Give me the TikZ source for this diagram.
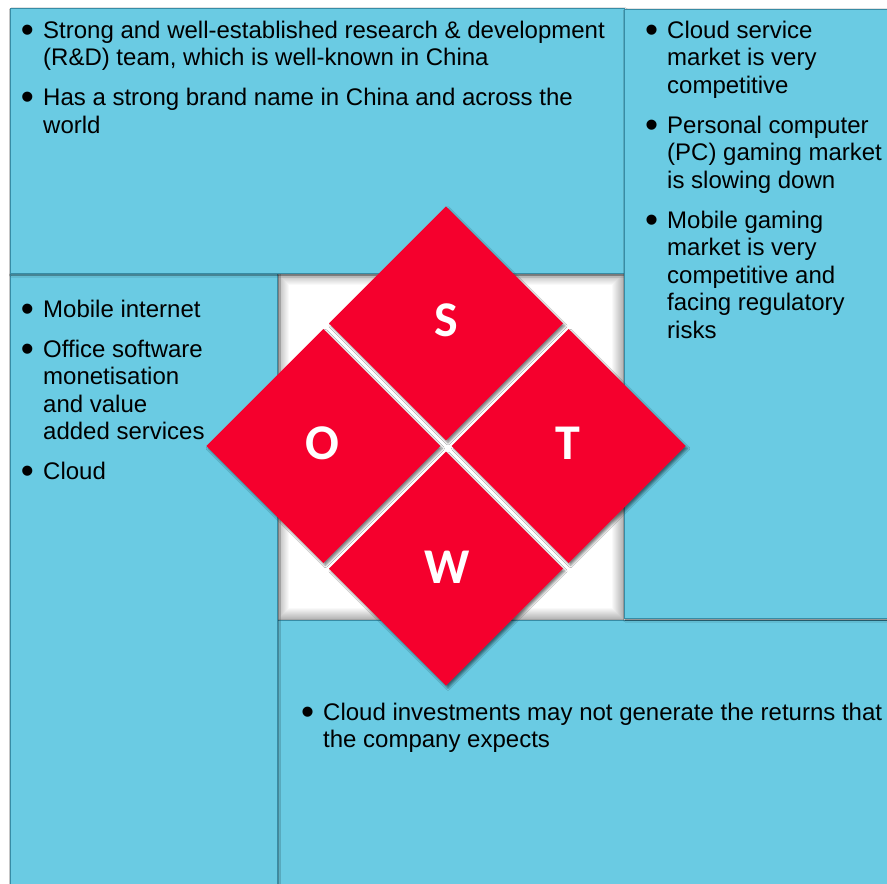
\documentclass[tikz,border=0pt]{standalone}
\usepackage{fontspec}
\usepackage{graphicx}
\setmainfont{Liberation Sans}
\newfontfamily\letterfont{Carlito}
\usetikzlibrary{shadows.blur}
\definecolor{boxblue}{RGB}{106,203,227}
\definecolor{boxedge}{RGB}{55,140,165}
\definecolor{swotred}{RGB}{245,0,45}
\newlength\bulw \setlength\bulw{20pt}
\newcommand\bi{\strut\makebox[\bulw][l]{\hspace*{-2.2pt}\raisebox{-4.2pt}{\scalebox{1.55}{\textbullet}}}}
\newcommand\ci{\hspace*{\bulw}}
\begin{document}
\begin{tikzpicture}[x=1pt,y=-1pt,
  panel/.style={fill=boxblue, draw=boxedge, line width=0.8pt,
    blur shadow={shadow xshift=1.5pt, shadow yshift=-2pt, shadow blur steps=6, shadow opacity=55}},
  quad/.style={fill=swotred,
    blur shadow={shadow xshift=2pt, shadow yshift=-2.5pt, shadow blur steps=6, shadow opacity=50}},
  letter/.style={text=white, font=\letterfont\bfseries\fontsize{50}{50}\selectfont, inner sep=0pt},
  list/.style={anchor=north west, align=left, inner sep=0pt, font=\fontsize{24}{27.5}\selectfont}]
\useasboundingbox (0,0) rectangle (887,884);
\fill[white] (0,0) rectangle (887,884);
% central white square with sunken edges
\fill[white] (277,273) rectangle (624,620);
\foreach \i in {0,...,11}
  \draw[black, opacity={0.30*(1-\i/12)}, line width=1pt] (277.5+\i,273.5+\i) rectangle (623.5-\i,619.5-\i);
% panels
\path[panel] (277,620) rectangle (892,892);
\path[panel] (10,273) rectangle (277,892);
\path[panel] (10,8) rectangle (624,273);
\path[panel] (624,9) rectangle (892,618);
% diamonds
\foreach \cx/\cy in {446/323.3, 323.3/446, 568.7/446, 446/568.7}
  \path[quad] (\cx,\cy-117) -- (\cx+117,\cy) -- (\cx,\cy+117) -- (\cx-117,\cy) -- cycle;
\node[letter] (S) at (446,320) {S};
\node[letter] (O) at (322,443) {O};
\node[letter] (T) at (568,443) {T};
\node[letter] (W) at (447,567) {W};
% texts (first baseline = y + 19.25)
\node[list] (strengths) at (23,18.75) {\bi Strong and well-established research \& development\\
\ci (R\&D) team, which is well-known in China\\[12.5pt]
\bi Has a strong brand name in China and across the\\
\ci world};
\node[list] (threats) at (647,18.75) {\bi Cloud service\\ \ci market is very\\ \ci competitive\\[12.5pt]
\bi Personal computer\\ \ci (PC) gaming market\\ \ci is slowing down\\[12.5pt]
\bi Mobile gaming\\ \ci market is very\\ \ci competitive and\\ \ci facing regulatory\\ \ci risks};
\node[list] (opportunities) at (23,297.75) {\bi Mobile internet\\[12.5pt]
\bi Office software\\ \ci monetisation\\ \ci and value\\ \ci added services\\[12.5pt]
\bi Cloud};
\node[list] (weaknesses) at (303,700.75) {\bi Cloud investments may not generate the returns that\\
\ci the company expects};
\end{tikzpicture}
\end{document}
